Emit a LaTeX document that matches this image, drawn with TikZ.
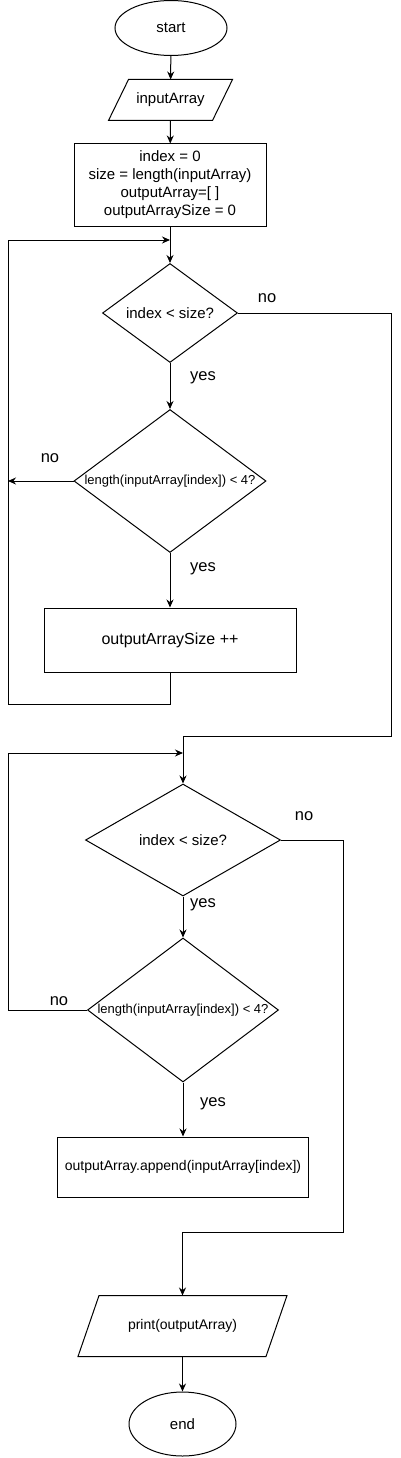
\documentclass[tikz,border=0pt]{standalone}
\usepackage{fontspec}
\setmainfont{Liberation Sans}
\usetikzlibrary{shapes.geometric,arrows.meta}
\begin{document}
\begin{tikzpicture}[x=1pt,y=-1pt,
  line width=1pt,
  base/.style={draw, inner sep=0pt, font=\fontsize{15}{18}\selectfont, align=center},
  term/.style={base, ellipse},
  proc/.style={base, rectangle},
  io/.style={inner sep=0pt, font=\fontsize{15}{18}\selectfont},
  decis/.style={base, diamond, aspect=1},
  lbl/.style={font=\fontsize{16.5}{18}\selectfont, inner sep=0pt},
  arr/.style={-{Stealth[length=8pt,width=7pt]}}
]
\useasboundingbox (0,0) rectangle (401,1458);

% nodes
\node[term, minimum width=112, minimum height=55] (start) at (171,28) {start};
\node[io, minimum width=103, minimum height=40] (in) at (170.5,100) {inputArray};
\draw ([xshift=10pt]in.north west) -- ([xshift=10pt]in.north east) -- ([xshift=-10pt]in.south east) -- ([xshift=-10pt]in.south west) -- cycle;
\node[proc, minimum width=192, minimum height=82] (init) at (170,185)
  {index = 0\\size = length(inputArray)\\outputArray=[ ]\\outputArraySize = 0};
\node[decis, minimum width=135, minimum height=99] (d1) at (170,313) {\makebox[0pt]{index < size?}};
\node[decis, minimum width=192, minimum height=143] (d2) at (170,481)
  {\makebox[0pt]{\fontsize{13}{15}\selectfont length(inputArray[index]) < 4?}};
\node[proc, minimum width=252, minimum height=64, font=\fontsize{16}{18}\selectfont] (box1) at (170,640) {outputArraySize ++};

\node[decis, minimum width=195, minimum height=112] (d3) at (183,840) {\makebox[0pt]{index < size?}};
\node[decis, minimum width=191, minimum height=144] (d4) at (183,1010)
  {\makebox[0pt]{\fontsize{13}{15}\selectfont length(inputArray[index]) < 4?}};
\node[proc, minimum width=251, minimum height=60, font=\fontsize{14}{16}\selectfont] (box2) at (183,1167) {outputArray.append(inputArray[index])};
\node[io, minimum width=187, minimum height=60, font=\fontsize{14}{16}\selectfont] (pr) at (182.5,1326) {print(outputArray)};
\draw ([xshift=10.5pt]pr.north west) -- ([xshift=10.5pt]pr.north east) -- ([xshift=-10.5pt]pr.south east) -- ([xshift=-10.5pt]pr.south west) -- cycle;
\node[term, minimum width=107, minimum height=64] (end) at (182.5,1424) {end};

% coordinates
\coordinate (j1) at (170,240);
\coordinate (c1) at (8,704);
\coordinate (c2) at (8,240);
\coordinate (l2) at (8,481);
\coordinate (r1) at (391,736);
\coordinate (l4) at (8,753);
\coordinate (j3) at (183,753);
\coordinate (r3) at (343,1232);

% connectors
\draw[arr] (start) -- (in);
\draw[arr] (in) -- (init);
\draw[arr] (init) -- (d1);
\draw[arr] (box1.south) |- (c1) -- (c2) -- (j1);
\draw[arr] (d1) -- (d2);
\draw[arr] (d2.west) -- (l2);
\draw[arr] (d2) -- (box1);
\draw[arr] (d1.east) -| (r1) -| (d3.north);
\draw[arr] (d3) -- (d4);
\draw[arr] (d4.west) -| (l4) -- (j3);
\draw[arr] (d4) -- (box2);
\draw[arr] (d3.east) -| (r3) -| (pr.north);
\draw[arr] (pr) -- (end);

% labels
\node[lbl] (n1) at (267,298) {no};
\node[lbl] (y1) at (203,378) {yes};
\node[lbl] (n2) at (50,458) {no};
\node[lbl] (y2) at (203,569) {yes};
\node[lbl] (n3) at (304,816) {no};
\node[lbl] (y3) at (203,905) {yes};
\node[lbl] (n4) at (59,1001) {no};
\node[lbl] (y4) at (213,1104) {yes};
\end{tikzpicture}
\end{document}
